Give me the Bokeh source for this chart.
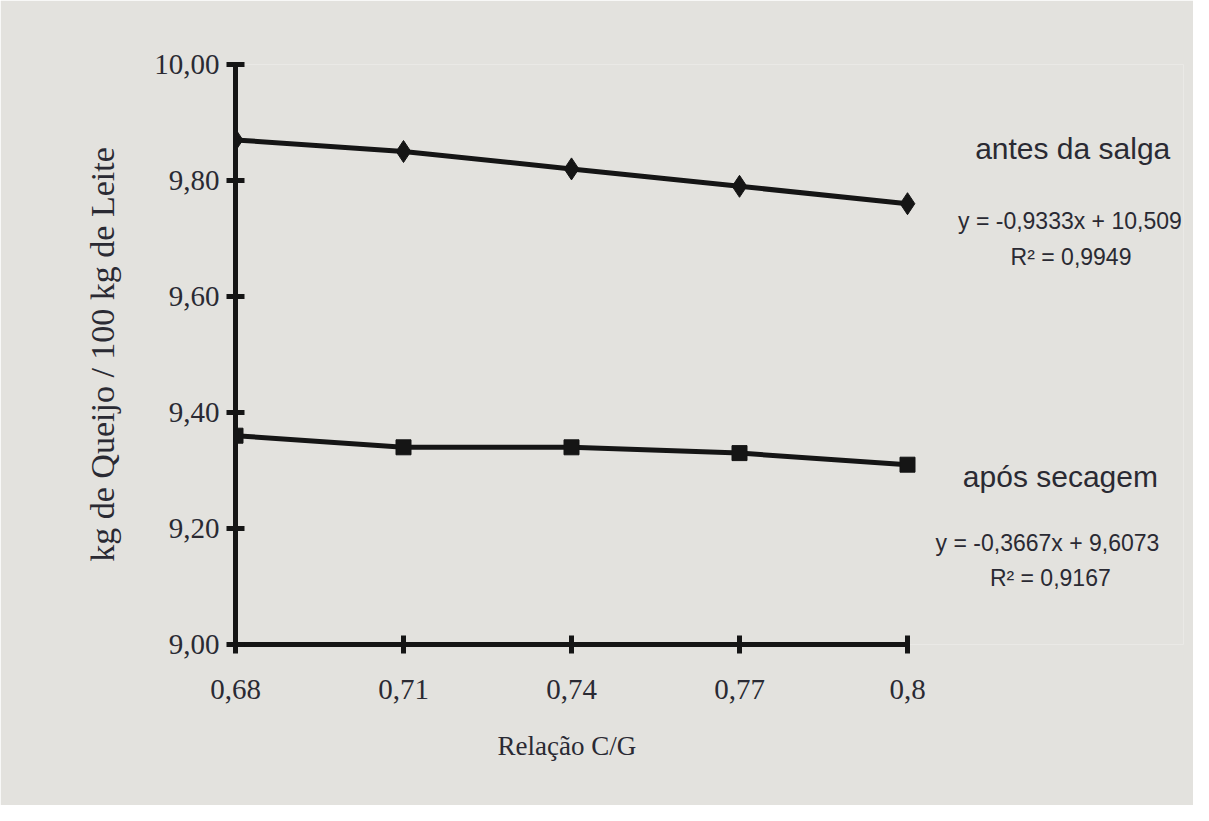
from bokeh.plotting import figure
from bokeh.models import Range1d, Label, FixedTicker, Title
from bokeh.embed import file_html
from bokeh.resources import INLINE

# Data
relacao_cg = [0.68, 0.71, 0.74, 0.77, 0.80]
x_tick_labels = ["0,68", "0,71", "0,74", "0,77", "0,8"]
antes_da_salga = [9.87, 9.85, 9.82, 9.79, 9.76]
apos_secagem = [9.36, 9.34, 9.34, 9.33, 9.31]
y_ticks = [9.0, 9.2, 9.4, 9.6, 9.8, 10.0]
y_tick_labels = ["9,00", "9,20", "9,40", "9,60", "9,80", "10,00"]
series_names = ["antes da salga", "após secagem"]
equations = ["y = -0,9333x + 10,509", "y = -0,3667x + 9,6073"]
r2_texts = ["R² = 0,9949", "R² = 0,9167"]
x_axis_title = "Relação C/G"
y_axis_title = "kg de Queijo / 100 kg de Leite"

BG = "#e3e2de"
INK = "#151515"
TXT = "#2a2a33"
SERIF = "Liberation Serif"
SANS = "Liberation Sans"

W, H = 1193, 805
LEFT, RIGHT, TOP, BOTTOM = 235, 10, 64, 161
PX_PER_UNIT = 672 / 0.12
x_end = 0.68 + (W - RIGHT - LEFT) / PX_PER_UNIT

p = figure(width=W, height=H, output_backend="svg", toolbar_location=None,
           x_range=Range1d(0.68, x_end), y_range=Range1d(9.0, 10.0),
           min_border_left=LEFT, min_border_right=RIGHT, min_border_top=TOP, min_border_bottom=BOTTOM)
p.background_fill_color = BG
p.border_fill_color = BG
p.outline_line_color = None
p.xgrid.visible = False
p.ygrid.visible = False

p.line(relacao_cg, antes_da_salga, line_color=INK, line_width=5)
p.scatter(relacao_cg, antes_da_salga, marker="diamond", size=22, fill_color=INK, line_color=INK)
p.line(relacao_cg, apos_secagem, line_color=INK, line_width=5)
p.scatter(relacao_cg, apos_secagem, marker="square", size=15, fill_color=INK, line_color=INK)

for ax in (p.xaxis[0], p.yaxis[0]):
    ax.axis_line_color = INK
    ax.axis_line_width = 5
    ax.major_tick_line_color = INK
    ax.major_tick_line_width = 5
    ax.major_tick_in = 9
    ax.major_tick_out = 9
    ax.minor_tick_line_color = None
    ax.major_label_text_font = SERIF
    ax.major_label_text_font_size = "29px"
    ax.major_label_text_color = TXT
    ax.axis_label_text_font = SERIF
    ax.axis_label_text_font_style = "normal"
    ax.axis_label_text_color = TXT

p.xaxis.bounds = (relacao_cg[0], relacao_cg[-1])
p.xaxis.ticker = FixedTicker(ticks=relacao_cg)
p.xaxis.major_label_overrides = {t: l for t, l in zip(relacao_cg, x_tick_labels)}
p.xaxis.major_label_standoff = 26

# x-axis title centred under the bounded axis (not under the whole frame)
p.add_layout(Title(text=x_axis_title, align="left", offset=262, standoff=54,
                   text_font=SERIF, text_font_size="27px", text_font_style="normal",
                   text_color=TXT), "below")

p.yaxis.ticker = FixedTicker(ticks=y_ticks)
p.yaxis.major_label_overrides = {t: l for t, l in zip(y_ticks, y_tick_labels)}
p.yaxis.major_label_standoff = 7
p.yaxis.axis_label = y_axis_title
p.yaxis.axis_label_text_font_size = "34px"
p.yaxis.axis_label_standoff = 30

# Annotations (placed in data space to the right of the series)
ann = [
    (0.8295, 9.855, series_names[0], "30px"),
    (0.8290, 9.730, equations[0], "23px"),
    (0.8292, 9.668, r2_texts[0], "23px"),
    (0.8273, 9.290, series_names[1], "30px"),
    (0.8250, 9.175, equations[1], "23px"),
    (0.8255, 9.115, r2_texts[1], "23px"),
]
for x, y, t, fs in ann:
    p.add_layout(Label(x=x, y=y, text=t, text_font=SANS, text_font_size=fs,
                       text_color=TXT, text_align="center", text_baseline="middle"))

open("out.html", "w").write(file_html(p, INLINE))
